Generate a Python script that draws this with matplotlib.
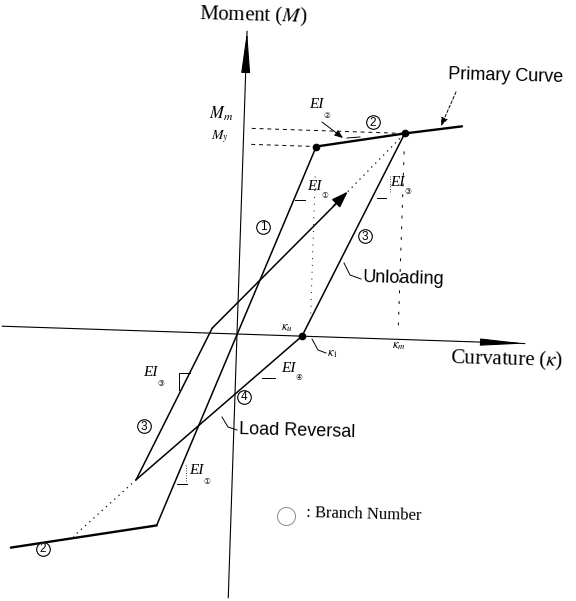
import numpy as np
import matplotlib.pyplot as plt
from matplotlib.transforms import Affine2D

W, H = 576, 601
TILT = -1.9     # the sheet sits slightly skewed

# corner points of the moment-curvature loop (drawing units, origin at axes cross)
k_y, M_y = 73, 190          # yield point (My)
k_m, M_m = 161, 206         # maximum point (Mm)
k_end, M_end = 218, 215     # end of primary curve, positive side
k_yn, M_yn = -74, -194      # yield point, negative side
k_endn, M_endn = -219, -221 # end of primary curve, negative side
k_u = 65                    # unloading reaches zero moment here
k_r, M_r = -96, -149        # load reversal point
k_s, M_s = -25, 5           # start of reloading branch
k_a, M_a = 106, 146         # arrow tip on reloading branch
k_t, M_t = -157, -208       # aim point on negative primary branch

k_axis = [-235, 288]
M_axis = [-264, 303]

# branch numbers: (label, x, y) in sheet pixels
branch_marks = [("1", 263, 227), ("2", 373, 122), ("3", 365, 236),
                ("3", 144, 426), ("4", 244, 397), ("2", 43, 549)]
# stiffness labels: (subscript, x, y)
ei_marks = [("②", 316, 105), ("①", 314, 186), ("③", 397, 182),
            ("④", 288, 368), ("③", 150, 373), ("①", 196, 471)]

plt.rcParams['mathtext.fontset'] = 'stix'
serif = 'Liberation Serif'
sans = 'Liberation Sans'

fig = plt.figure(figsize=(W / 100, H / 100), dpi=100)
ax = fig.add_axes([0, 0, 1, 1])
ax.set_xlim(-237, W - 237)
ax.set_ylim(-(H - 334), 334)
ax.axis('off')

tr = Affine2D().rotate_deg(TILT) + ax.transData
PIX = Affine2D().scale(1, -1).translate(0, H)   # sheet pixels, y down

def line(k, M, **kw):
    kw.setdefault('color', 'k')
    ax.plot(k, M, transform=tr, solid_capstyle='round', **kw)

# axes with long slender heads
line(k_axis, [0, 0], lw=0.8)
line([0, 0], M_axis, lw=0.8)
ax.annotate('', xy=(k_axis[1], 0), xytext=(k_axis[1] - 40, 0),
            xycoords=tr, textcoords=tr,
            arrowprops=dict(arrowstyle='-|>,head_length=2.7,head_width=0.22',
                            mutation_scale=10, color='k', lw=0.8,
                            shrinkA=0, shrinkB=0))
ax.annotate('', xy=(0, M_axis[1]), xytext=(0, M_axis[1] - 40),
            xycoords=tr, textcoords=tr,
            arrowprops=dict(arrowstyle='-|>,head_length=2.6,head_width=0.28',
                            mutation_scale=10, color='k', lw=0.8,
                            shrinkA=0, shrinkB=0))

# primary curve
line([k_yn, k_y], [M_yn, M_y], lw=1.1)
line([k_y, k_m, k_end], [M_y, M_m, M_end], lw=1.7)
line([k_yn, k_endn], [M_yn, M_endn], lw=1.7)

# unloading, load reversal and reloading
line([k_m, k_u], [M_m, 0], lw=1.1)
line([k_u, k_r], [0, M_r], lw=1.1)
line([k_r, k_s], [M_r, M_s], lw=1.1)
line([k_s, k_a - 8], [M_s, M_a - 9], lw=1.1)
ax.annotate('', xy=(k_a, M_a), xytext=(k_a - 14, M_a - 15),
            xycoords=tr, textcoords=tr,
            arrowprops=dict(arrowstyle='-|>,head_length=1.0,head_width=0.35',
                            mutation_scale=10, color='k', lw=1.1,
                            shrinkA=0, shrinkB=0))
line([k_a, k_m], [M_a, M_m], lw=0.9, ls=(0, (1, 3.5)))
line([k_r, k_t], [M_r, M_t], lw=0.9, ls=(0, (1, 3.5)))

# reference levels
line([8, k_m], [M_m, M_m], lw=0.7, ls=(0, (4, 4)))
line([8, k_y], [M_y, M_y], lw=0.7, ls=(0, (4, 4)))
line([k_m, k_m], [M_m - 18, 8], lw=0.7, ls=(0, (3, 8)))
line([k_y, k_y], [M_y - 30, 12], lw=0.7, ls=(0, (1, 6)))

ax.plot([k_y, k_m, k_u], [M_y, M_m, 0], 'o', color='k', ms=4.5,
        transform=tr)

# branch numbers
for s, x, y in branch_marks:
    ax.plot(x, y, 'o', ms=9.8, mfc='white', mec='k', mew=0.8, transform=PIX)
    ax.text(x, y + 0.5, s, transform=PIX, ha='center', va='center',
            fontsize=8.5, family=sans)
ax.plot(286, 516, 'o', ms=13, mfc='none', mec='0.55', mew=0.7, ls='none',
        transform=PIX)

# stiffness labels
for sub, x, y in ei_marks:
    ax.text(x, y, 'EI', transform=PIX, ha='center', va='center',
            fontsize=11, family=serif, style='italic')
    ax.text(x + 11, y + 10, sub, transform=PIX, ha='center', va='center',
            fontsize=5.5, family='DejaVu Sans')

# slope ticks and small leaders
ticks = [([295, 305], [200, 200]), ([377, 386], [198, 198]),
         ([262, 275], [378, 378]), ([179, 179, 190], [390, 373, 373]),
         ([177, 187], [484, 484]), ([347, 360], [138, 137]),
         ([344, 350, 361], [263, 275, 279]),
         ([222, 228, 237], [417, 427, 430]),
         ([312, 318, 326], [339, 350, 353])]
for xs, ys in ticks:
    ax.plot(xs, ys, color='k', lw=0.7, transform=PIX)
for xs, ys in [([186, 186], [465, 482]), ([390, 390], [176, 192])]:
    ax.plot(xs, ys, color='k', lw=0.6, ls=(0, (1, 2)), transform=PIX)

ax.annotate('', xy=(343, 138), xytext=(322, 122), xycoords=PIX,
            arrowprops=dict(arrowstyle='-|>,head_length=0.5,head_width=0.2',
                            mutation_scale=10, color='k', lw=0.7,
                            shrinkA=0, shrinkB=0))
ax.annotate('', xy=(441, 126), xytext=(456, 92), xycoords=PIX,
            arrowprops=dict(arrowstyle='-|>,head_length=0.5,head_width=0.2',
                            mutation_scale=10, color='k', lw=0.7,
                            ls=(0, (3, 2)), shrinkA=0, shrinkB=0))

# text
rot = dict(rotation=-1.5, rotation_mode='anchor', transform=PIX)
ax.text(253, 16, 'Moment ($M$)', ha='center', va='center', fontsize=15,
        family=serif, **rot)
ax.text(450, 358, r'Curvature ($\kappa$)', ha='left', va='center',
        fontsize=15, family=serif, **rot)
ax.text(448, 75, 'Primary Curve', ha='left', va='center', fontsize=13,
        family=sans, **rot)
ax.text(363, 278, 'Unloading', ha='left', va='center', fontsize=13,
        family=sans, **rot)
ax.text(239, 430, 'Load Reversal', ha='left', va='center', fontsize=13,
        family=sans, **rot)
ax.text(306, 513, ': Branch Number', ha='left', va='center', fontsize=12,
        family=serif, **rot)
ax.text(221, 114, '$M_m$', ha='center', va='center', fontsize=12,
        transform=PIX)
ax.text(220, 137, '$M_y$', ha='center', va='center', fontsize=10,
        transform=PIX)
ax.text(287, 327, r'$\kappa_u$', ha='center', va='center', fontsize=9,
        transform=PIX)
ax.text(333, 354, r'$\kappa_1$', ha='center', va='center', fontsize=9,
        transform=PIX)
ax.text(399, 346, r'$\kappa_m$', ha='center', va='center', fontsize=9,
        transform=PIX)

fig.savefig('out.png', dpi=100, facecolor='white')
